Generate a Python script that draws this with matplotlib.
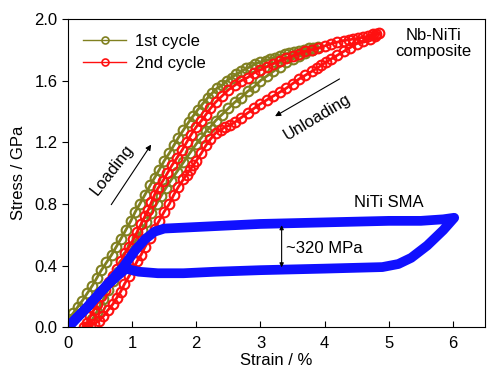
import matplotlib
matplotlib.use("Agg")
import matplotlib.pyplot as plt

plt.rcParams['font.family'] = ['Liberation Sans', 'DejaVu Sans']

# 1st cycle (Nb-NiTi composite)
c1_strain = [0.0, 0.08, 0.15, 0.22, 0.3, 0.38, 0.45, 0.52, 0.6, 0.68, 0.75, 0.82, 0.9, 0.98, 1.05, 1.12,
             1.2, 1.28, 1.35, 1.42, 1.5, 1.58, 1.65, 1.72, 1.8, 1.88, 1.95, 2.02, 2.1, 2.18, 2.25, 2.32,
             2.4, 2.48, 2.55, 2.62, 2.7, 2.78, 2.85, 2.92, 3.0, 3.08, 3.15, 3.22, 3.3, 3.38, 3.45, 3.52,
             3.6, 3.68, 3.75, 3.82, 3.9,
             3.8, 3.7, 3.6, 3.5, 3.4, 3.3, 3.2, 3.1, 3.0, 2.9, 2.8, 2.7, 2.6, 2.5, 2.4, 2.3, 2.22, 2.15,
             2.08, 2.0, 1.9, 1.8, 1.7, 1.6, 1.52, 1.45, 1.38, 1.3, 1.22, 1.15, 1.08, 1.0, 0.92, 0.85,
             0.78, 0.7, 0.62, 0.55, 0.5, 0.45, 0.38, 0.3]
c1_stress = [0.05, 0.09, 0.13, 0.17, 0.22, 0.27, 0.32, 0.37, 0.42, 0.47, 0.52, 0.57, 0.63, 0.69, 0.75, 0.8,
             0.86, 0.92, 0.97, 1.02, 1.08, 1.13, 1.18, 1.23, 1.28, 1.33, 1.37, 1.41, 1.45, 1.49, 1.52, 1.55,
             1.57, 1.6, 1.62, 1.64, 1.66, 1.68, 1.69, 1.71, 1.72, 1.73, 1.74, 1.75, 1.76, 1.77, 1.78, 1.785,
             1.79, 1.8, 1.81, 1.815, 1.82,
             1.8, 1.78, 1.76, 1.74, 1.72, 1.69, 1.66, 1.63, 1.6, 1.56, 1.53, 1.49, 1.46, 1.42, 1.38, 1.34, 1.3, 1.27,
             1.23, 1.19, 1.13, 1.07, 1.01, 0.95, 0.9, 0.85, 0.8, 0.74, 0.68, 0.63, 0.58, 0.52, 0.46, 0.41,
             0.36, 0.3, 0.24, 0.18, 0.14, 0.1, 0.05, 0.0]

# 2nd cycle
c2_strain = [0.25, 0.3, 0.35, 0.4, 0.45, 0.52, 0.58, 0.64, 0.7, 0.77, 0.83, 0.89, 0.95, 1.02, 1.08, 1.14,
             1.2, 1.25, 1.3, 1.35, 1.4, 1.48, 1.55, 1.62, 1.7, 1.78, 1.85, 1.92, 2.0, 2.08, 2.15, 2.22, 2.3,
             2.4, 2.5, 2.6, 2.7, 2.8, 2.9, 3.0, 3.1, 3.2, 3.3, 3.4, 3.5, 3.6, 3.7, 3.8, 3.9, 4.0, 4.1,
             4.2, 4.3, 4.38, 4.45, 4.52, 4.6, 4.68, 4.75, 4.8, 4.85,
             4.78, 4.7, 4.6, 4.5, 4.4, 4.3, 4.2, 4.1, 4.02, 3.95, 3.88, 3.8, 3.7, 3.6, 3.5, 3.4, 3.3, 3.2,
             3.1, 3.0, 2.9, 2.8, 2.7, 2.6, 2.52, 2.45, 2.38, 2.3, 2.22, 2.15, 2.08, 2.0, 1.95, 1.9, 1.85,
             1.8, 1.72, 1.65, 1.58, 1.5, 1.42, 1.35, 1.28, 1.2, 1.14, 1.08, 1.02, 0.95, 0.88, 0.82, 0.76,
             0.7, 0.62, 0.55, 0.48, 0.4, 0.35, 0.3]
c2_stress = [0.0, 0.03, 0.07, 0.11, 0.15, 0.2, 0.24, 0.29, 0.33, 0.38, 0.43, 0.48, 0.52, 0.57, 0.62, 0.67,
             0.72, 0.76, 0.81, 0.86, 0.9, 0.95, 1.0, 1.05, 1.1, 1.15, 1.2, 1.25, 1.3, 1.34, 1.38, 1.42, 1.46,
             1.5, 1.54, 1.57, 1.6, 1.62, 1.65, 1.67, 1.69, 1.71, 1.73, 1.745, 1.76, 1.775, 1.79, 1.8, 1.81, 1.825, 1.84,
             1.85, 1.86, 1.865, 1.87, 1.875, 1.88, 1.89, 1.9, 1.905, 1.91,
             1.89, 1.87, 1.855, 1.84, 1.815, 1.79, 1.765, 1.74, 1.72, 1.7, 1.68, 1.66, 1.635, 1.61, 1.58, 1.55, 1.525, 1.5,
             1.475, 1.45, 1.42, 1.39, 1.36, 1.33, 1.31, 1.3, 1.28, 1.26, 1.22, 1.18, 1.13, 1.08, 1.05, 1.02, 0.99,
             0.96, 0.91, 0.86, 0.8, 0.75, 0.69, 0.64, 0.58, 0.52, 0.47, 0.43, 0.38, 0.33, 0.28, 0.23, 0.19,
             0.15, 0.11, 0.07, 0.04, 0.02, 0.01, 0.0]

# NiTi SMA
sma_strain = [0.0, 0.3, 0.6, 0.86, 1.05, 1.2, 1.35, 1.5, 2.0, 2.5, 3.0, 3.5, 4.0, 4.5, 5.0, 5.5, 5.85, 6.02,
              5.85, 5.6, 5.35, 5.15, 4.9, 4.0, 3.0, 2.3, 1.8, 1.4, 1.1, 0.9, 0.6, 0.3, 0.0]
sma_stress = [0.0, 0.13, 0.27, 0.39, 0.5, 0.57, 0.62, 0.64, 0.65, 0.66, 0.67, 0.675, 0.68, 0.685, 0.69, 0.69, 0.70, 0.71,
              0.63, 0.53, 0.45, 0.41, 0.39, 0.38, 0.37, 0.36, 0.35, 0.35, 0.36, 0.38, 0.27, 0.13, 0.0]

fig = plt.figure(figsize=(5, 3.8), dpi=100)
ax = fig.add_axes([0.136, 0.139, 0.834, 0.811])

ax.plot(c1_strain, c1_stress, '-o', color='#808020', mfc='none', ms=7, mew=1.5, lw=2, label='1st cycle')
ax.plot(c2_strain, c2_stress, '-o', color='#ff1010', mfc='none', ms=7, mew=1.5, lw=2, label='2nd cycle')
ax.plot(sma_strain, sma_stress, '-', color='#1010ff', lw=7, solid_joinstyle='round', solid_capstyle='round')

ax.set_xlim(0, 6.5)
ax.set_ylim(0, 2.0)
ax.set_xticks([0, 1, 2, 3, 4, 5, 6])
ax.set_yticks([0.0, 0.4, 0.8, 1.2, 1.6, 2.0])
ax.set_yticklabels(['0.0', '0.4', '0.8', '1.2', '1.6', '2.0'])
ax.tick_params(axis='x', direction='in', length=4, labelsize=12, pad=6)
ax.tick_params(axis='y', direction='out', length=4, labelsize=12)
ax.set_xlabel('Strain / %', fontsize=12, labelpad=2)
ax.set_ylabel('Stress / GPa', fontsize=12, labelpad=6)

leg = ax.legend(loc='upper left', frameon=False, fontsize=12, handlelength=2.6,
                handletextpad=0.5, labelspacing=0.4, borderaxespad=0.5)
for h in leg.legend_handles:
    h.set_linewidth(1.0)
    h.set_markersize(5)
    h.set_markeredgewidth(1.2)

ax.annotate('', xy=(1.32, 1.2), xytext=(0.65, 0.78),
            arrowprops=dict(arrowstyle='-|>', color='black', lw=0.8, mutation_scale=8))
ax.text(0.69, 1.02, 'Loading', rotation=52, fontsize=12, ha='center', va='center')
ax.annotate('', xy=(3.19, 1.36), xytext=(4.27, 1.62),
            arrowprops=dict(arrowstyle='-|>', color='black', lw=0.8, mutation_scale=8))
ax.text(3.89, 1.36, 'Unloading', rotation=31, fontsize=12, ha='center', va='center')
ax.text(5.69, 1.84, 'Nb-NiTi\ncomposite', fontsize=12, ha='center', va='center', linespacing=1.1)
ax.text(5.0, 0.81, 'NiTi SMA', fontsize=12, ha='center', va='center')
ax.annotate('', xy=(3.33, 0.37), xytext=(3.33, 0.68),
            arrowprops=dict(arrowstyle='<|-|>', color='black', lw=0.8, mutation_scale=6))
ax.text(3.4, 0.51, '~320 MPa', fontsize=12, ha='left', va='center')

fig.savefig('out.png', dpi=100)
